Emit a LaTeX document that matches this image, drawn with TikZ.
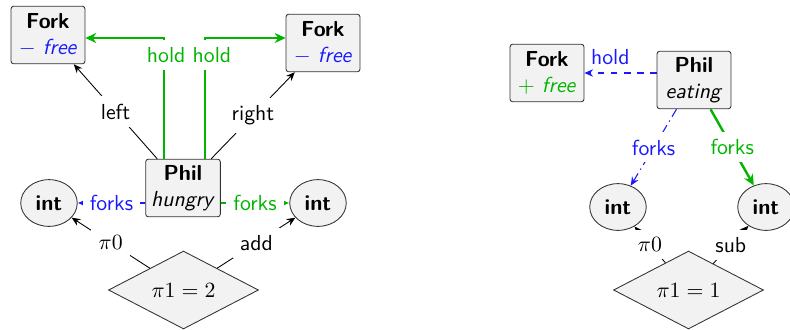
\documentclass[tikz,border=0pt]{standalone}
\usepackage{amsmath}
\usepackage{xcolor}
\usepackage{tikz}
\usetikzlibrary{arrows.meta}
\usetikzlibrary{shapes.geometric}
\renewcommand{\familydefault}{\sfdefault}
\definecolor{holdgreen}{RGB}{0,180,0}
\definecolor{holdblue}{RGB}{25,25,255}

\begin{document}
\begin{tikzpicture}[
x=0.46pt, y=-0.46pt,
ObjBox/.style={draw=black!80,fill=black!5,rounded corners=1.2pt,align=center,inner sep=2.5pt,minimum width=34pt,minimum height=26.5pt},
IntNode/.style={ellipse,draw=black!80,fill=black!5,minimum width=26pt,minimum height=21.5pt,inner sep=1pt,font=\bfseries},
ValDiamond/.style={diamond,draw=black!80,fill=black!5,minimum width=69pt,minimum height=34pt,inner sep=0pt},
Ptr/.style={-{Stealth[length=4pt,width=3.4pt]},black,thin},
Lbl/.style={fill=white},
Holds/.style={-{Stealth[length=5pt,width=4.6pt]},holdgreen,line width=1.1pt},
BlueForks/.style={-{Latex[length=3pt,width=3pt]},holdblue,line width=0.5pt},
GreenForks/.style={-{Latex[length=3pt,width=3pt]},holdgreen,line width=1.1pt}
]
%\draw[gray,step=50,dotted] (0,0) grid (790,329);
\useasboundingbox (0,0) rectangle (790,329);

% hungry philosopher
\node[ObjBox] (forkA) at (48,35) {\textbf{Fork}\\\textcolor{holdblue}{$-$\ \textit{free}}};
\node[ObjBox] (forkB) at (323,43) {\textbf{Fork}\\\textcolor{holdblue}{$-$\ \textit{free}}};
\node[ObjBox] (philA) at (183,188) {\textbf{Phil}\\\textit{hungry}};
\node[IntNode] (intA) at (49,203) {int};
\node[IntNode] (intB) at (318,203) {int};
\node[ValDiamond] (diaA) at (183.5,290) {$\pi1 = 2$};

\coordinate (bendA) at (164,38);
\coordinate (bendB) at (205,38);

\draw[Ptr] (philA) -- (forkA) node[midway,Lbl]{left};
\draw[Ptr] (philA) -- (forkB) node[midway,Lbl]{right};
\draw[Holds] (philA.north -| bendA) -- (bendA) node[pos=0.86,Lbl,text=holdgreen,xshift=1pt]{hold} -- (forkA.east |- bendA);
\draw[Holds] (philA.north -| bendB) -- (bendB) node[pos=0.86,Lbl,text=holdgreen,xshift=3.2pt]{hold} -- (forkB.west |- bendB);
\draw[BlueForks] (intA -| philA.west) -- (intA) node[midway,Lbl,text=holdblue]{forks};
\draw[GreenForks] (intB -| philA.east) -- (intB) node[midway,Lbl,text=holdgreen]{forks};
\draw[Ptr] (diaA) -- (intA) node[midway,Lbl]{$\pi0$};
\draw[Ptr] (diaA) -- (intB) node[midway,Lbl]{add};

% eating philosopher
\node[ObjBox] (forkC) at (547,73) {\textbf{Fork}\\\textcolor{holdgreen}{$+$\ \textit{free}}};
\node[ObjBox] (philB) at (694,80) {\textbf{Phil}\\\textit{eating}};
\node[IntNode] (intC) at (618,207) {int};
\node[IntNode] (intD) at (766,207) {int};
\node[ValDiamond] (diaB) at (688.5,290) {$\pi1 = 1$};

\draw[-{Stealth[length=4pt,width=3.4pt]},holdblue,line width=0.6pt,dashed] (philB.west |- forkC) -- (forkC) node[pos=0.64,above,text=holdblue]{hold};
\draw[-{Stealth[length=4pt,width=3.4pt]},holdblue,line width=0.5pt,dash pattern=on 4pt off 2pt on 0.6pt off 2pt] (philB) -- (intC) node[midway,Lbl,text=holdblue]{forks};
\draw[Holds] (philB) -- (intD) node[midway,Lbl,text=holdgreen]{forks};
\draw[Ptr] (diaB) -- (intC) node[midway,Lbl]{$\pi0$};
\draw[Ptr] (diaB) -- (intD) node[midway,Lbl]{sub};

\end{tikzpicture}
\end{document}
